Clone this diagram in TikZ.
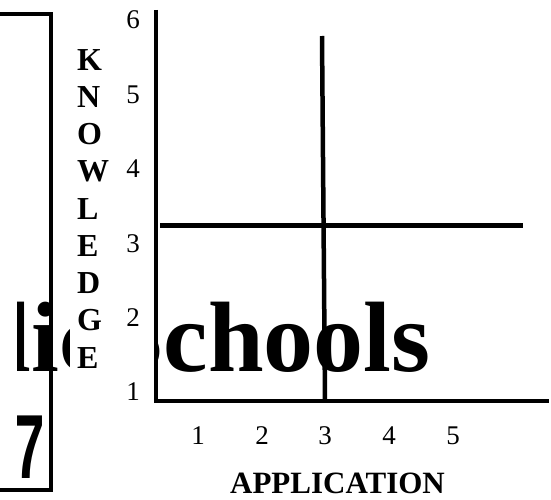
\documentclass[tikz,border=0pt]{standalone}
\usepackage{fontspec}
\setmainfont{Liberation Serif}
\newfontfamily\sevenfont{Liberation Sans}
\begin{document}
\begin{tikzpicture}[x=1pt,y=-1pt,
  axisline/.style={line width=4pt},
  num/.style={inner sep=0pt,font=\fontsize{27}{27}\selectfont},
  vlet/.style={inner sep=0pt,anchor=west,font=\fontsize{32}{32}\selectfont\bfseries},
  big/.style={inner sep=0pt,font=\fontsize{100}{100}\selectfont\bfseries}]
\useasboundingbox[fill=white] (0,0) rectangle (551,500);
% big background text
\begin{scope}
\clip (17,0) rectangle (551,500);
\node[big,anchor=base east] (pub) at (104,371) {Public};
\node[big,anchor=base west] (sch) at (108,371) {Schools};
\node[inner sep=0pt,font=\fontsize{91}{91}\selectfont\sevenfont\bfseries] (seven) at (30,447.5) {\scalebox{0.6}[1]{7}};
\end{scope}
\fill[white] (70,280) rectangle (154,392);
% left box
\coordinate (b1) at (0,14.5);
\coordinate (b2) at (51,14.5);
\coordinate (b3) at (51,489.5);
\coordinate (b4) at (0,489.5);
\draw[axisline,line join=miter] (b1) -- (b2) -- (b3) -- (b4);
% axes
\coordinate (ytop) at (155.5,10);
\coordinate (orig) at (155.5,401);
\coordinate (xend) at (549,401);
\draw[axisline,line join=miter] (ytop) -- (orig) -- (xend);
\coordinate (vtop) at (322,36);
\coordinate (vbot) at (325,401);
\draw[line width=4.5pt] (vtop) -- (vbot);
\coordinate (hl) at (160,225.5);
\coordinate (hr) at (523,225.5);
\draw[line width=4.5pt] (hl) -- (hr);
% y numbers
\foreach \n [count=\k from 0] in {6,5,4,3,2,1}
  \node[num] (y\n) at (133,20+74.4*\k) {\n};
% x numbers
\node[num] (x1) at (198,436) {1};
\node[num] (x2) at (262,436) {2};
\node[num] (x3) at (325,436) {3};
\node[num] (x4) at (389,436) {4};
\node[num] (x5) at (453,436) {5};
% vertical label
\foreach \l [count=\k from 0] in {K,N,O,W,L,E,D,G,E}
  \node[vlet] (v\k) at (77,60+37.2*\k) {\l};
\node[inner sep=0pt,font=\fontsize{31}{31}\selectfont\bfseries] (app) at (337.5,483) {APPLICATION};
\end{tikzpicture}
\end{document}
